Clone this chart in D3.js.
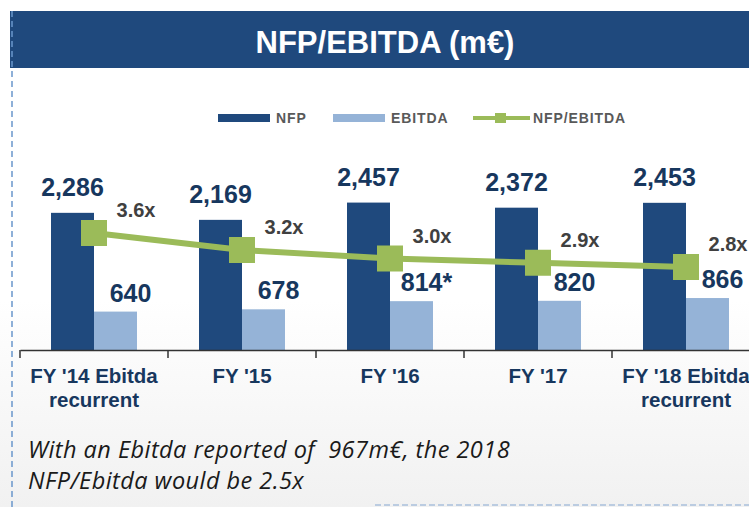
<!DOCTYPE html>
<head>
	<meta charset="utf-8">
	<script src="https://d3js.org/d3.v7.min.js"></script>
	<style>
		body { margin: 0; background: #fff; }
		svg { display: block; font-family: "Liberation Sans", Arial, sans-serif; }
		.title { font-size: 31px; font-weight: bold; fill: #fff; }
		.legend { font-size: 14px; font-weight: bold; fill: #595959; letter-spacing: 0.9px; }
		.value { font-size: 25px; font-weight: bold; fill: #17375e; }
		.ratio { font-size: 20px; font-weight: bold; fill: #404040; }
		.axis text { font-size: 20.5px; font-weight: bold; fill: #17375e; }
		.note { font-family: "Open Sans", sans-serif; font-size: 23.5px; font-style: italic; fill: #1a1a1a; white-space: pre; letter-spacing: 0.45px; }
	</style>
</head>
<body>
	<script>
		// data
		var categories = [["FY '14 Ebitda", "recurrent"], ["FY '15"], ["FY '16"], ["FY '17"], ["FY '18 Ebitda", "recurrent"]];
		var nfp = [2286, 2169, 2457, 2372, 2453];
		var ebitda = [640, 678, 814, 820, 866];
		var ebitdaLabels = ["640", "678", "814*", "820", "866"];
		var ratio = [3.6, 3.2, 3.0, 2.9, 2.8];
		var ratioLabels = ["3.6x", "3.2x", "3.0x", "2.9x", "2.8x"];
		var seriesNames = ["NFP", "EBITDA", "NFP/EBITDA"];

		var width = 749;
		var height = 507;
		var baseY = 350;
		var colors = { nfp: "#1f497d", ebitda: "#95b3d7", ratio: "#9bbb59" };

		var keys = categories.map(function(d, i) { return i; });

		// scales
		var x = d3.scaleBand()
			.domain(keys)
			.range([20, 20 + 148 * 5]);
		var barW = 43;

		var y = d3.scaleLinear()
			.domain([0, 2500])
			.range([baseY, 200]);

		var yRatio = d3.scaleLinear()
			.domain([2, 4])
			.range([301, 216]);

		var svg = d3.select("body")
			.append("svg")
			.attr("width", width)
			.attr("height", height);

		// background
		var grad = svg.append("defs").append("linearGradient")
			.attr("id", "bg").attr("x1", 0).attr("y1", 0).attr("x2", 0).attr("y2", 1);
		grad.append("stop").attr("offset", "0%").attr("stop-color", "#ffffff");
		grad.append("stop").attr("offset", "100%").attr("stop-color", "#f1f1f1");
		svg.append("rect")
			.attr("x", 0).attr("y", 300).attr("width", width).attr("height", height - 300)
			.attr("fill", "url(#bg)");

		// title bar
		svg.append("rect")
			.attr("x", 10).attr("y", 11).attr("width", width - 10).attr("height", 57)
			.attr("fill", colors.nfp);
		svg.append("text")
			.attr("class", "title")
			.attr("x", 385).attr("y", 53)
			.attr("text-anchor", "middle")
			.text("NFP/EBITDA (m€)");

		// dashed frame
		svg.append("line")
			.attr("x1", 12).attr("x2", 12).attr("y1", 11).attr("y2", height)
			.attr("stroke", "#6a96cc").attr("stroke-width", 1.5).attr("stroke-dasharray", "6,4");
		svg.append("line")
			.attr("x1", 375).attr("x2", width).attr("y1", 505).attr("y2", 505)
			.attr("stroke", "#a9c0dc").attr("stroke-width", 1.5).attr("stroke-dasharray", "6,3");

		// legend
		var legend = svg.append("g");
		legend.append("rect").attr("x", 218).attr("y", 114).attr("width", 52).attr("height", 8).attr("fill", colors.nfp);
		legend.append("text").attr("class", "legend").attr("x", 276).attr("y", 123).text(seriesNames[0]);
		legend.append("rect").attr("x", 333).attr("y", 114).attr("width", 52).attr("height", 8).attr("fill", colors.ebitda);
		legend.append("text").attr("class", "legend").attr("x", 391).attr("y", 123).text(seriesNames[1]);
		legend.append("line").attr("x1", 473).attr("x2", 530).attr("y1", 118).attr("y2", 118)
			.attr("stroke", colors.ratio).attr("stroke-width", 4);
		legend.append("rect").attr("x", 495).attr("y", 113).attr("width", 11).attr("height", 10).attr("fill", colors.ratio);
		legend.append("text").attr("class", "legend").attr("x", 533).attr("y", 123).text(seriesNames[2]);

		// bars
		svg.selectAll(".nfp")
			.data(nfp)
			.enter()
			.append("rect")
			.attr("class", "nfp")
			.attr("x", function(d, i) { return x(i) + x.bandwidth() / 2 - barW; })
			.attr("y", function(d) { return y(d); })
			.attr("width", barW)
			.attr("height", function(d) { return baseY - y(d); })
			.attr("fill", colors.nfp);

		svg.selectAll(".ebitda")
			.data(ebitda)
			.enter()
			.append("rect")
			.attr("class", "ebitda")
			.attr("x", function(d, i) { return x(i) + x.bandwidth() / 2; })
			.attr("y", function(d) { return y(d); })
			.attr("width", barW)
			.attr("height", function(d) { return baseY - y(d); })
			.attr("fill", colors.ebitda);

		// bar labels
		svg.selectAll(".nfpLabel")
			.data(nfp)
			.enter()
			.append("text")
			.attr("class", "value")
			.attr("x", function(d, i) { return x(i) + x.bandwidth() / 2 - barW / 2; })
			.attr("y", function(d) { return y(d) - 17; })
			.attr("text-anchor", "middle")
			.text(function(d) { return d3.format(",")(d); });

		svg.selectAll(".ebitdaLabel")
			.data(ebitda)
			.enter()
			.append("text")
			.attr("class", "value")
			.attr("x", function(d, i) { return x(i) + x.bandwidth() / 2 + barW / 2 + 15; })
			.attr("y", function(d) { return y(d) - 10; })
			.attr("text-anchor", "middle")
			.text(function(d, i) { return ebitdaLabels[i]; });

		// axis
		var axis = svg.append("g")
			.attr("class", "axis")
			.attr("transform", "translate(0," + baseY + ")")
			.call(d3.axisBottom(x).tickSize(0).tickPadding(0).tickFormat(""));
		axis.select(".domain").attr("stroke", "#333").attr("stroke-width", 1.5);

		axis.selectAll(".bound")
			.data(keys)
			.enter()
			.append("line")
			.attr("x1", function(d) { return x(d); })
			.attr("x2", function(d) { return x(d); })
			.attr("y1", 0).attr("y2", 8)
			.attr("stroke", "#333").attr("stroke-width", 1.5);

		axis.selectAll(".catLabel")
			.data(categories)
			.enter()
			.append("text")
			.attr("text-anchor", "middle")
			.attr("transform", function(d, i) { return "translate(" + (x(i) + x.bandwidth() / 2) + ",33)"; })
			.selectAll("tspan")
			.data(function(d) { return d; })
			.enter()
			.append("tspan")
			.attr("x", 0)
			.attr("dy", function(d, j) { return j === 0 ? 0 : 24; })
			.text(function(d) { return d; });

		// ratio line
		var line = d3.line()
			.x(function(d, i) { return x(i) + x.bandwidth() / 2; })
			.y(function(d) { return yRatio(d); });

		svg.append("path")
			.datum(ratio)
			.attr("d", line)
			.attr("fill", "none")
			.attr("stroke", colors.ratio)
			.attr("stroke-width", 6);

		svg.selectAll(".marker")
			.data(ratio)
			.enter()
			.append("rect")
			.attr("x", function(d, i) { return x(i) + x.bandwidth() / 2 - 13; })
			.attr("y", function(d) { return yRatio(d) - 13; })
			.attr("width", 26)
			.attr("height", 26)
			.attr("fill", colors.ratio);

		svg.selectAll(".ratioLabel")
			.data(ratio)
			.enter()
			.append("text")
			.attr("class", "ratio")
			.attr("x", function(d, i) { return x(i) + x.bandwidth() / 2 + 42; })
			.attr("y", function(d) { return yRatio(d) - 16; })
			.attr("text-anchor", "middle")
			.text(function(d, i) { return ratioLabels[i]; });

		// note
		svg.append("text").attr("class", "note").attr("x", 28).attr("y", 458)
			.text("With an Ebitda reported of  967m€, the 2018");
		svg.append("text").attr("class", "note").attr("x", 28).attr("y", 489)
			.text("NFP/Ebitda would be 2.5x");
	</script>
</body>
</html>
